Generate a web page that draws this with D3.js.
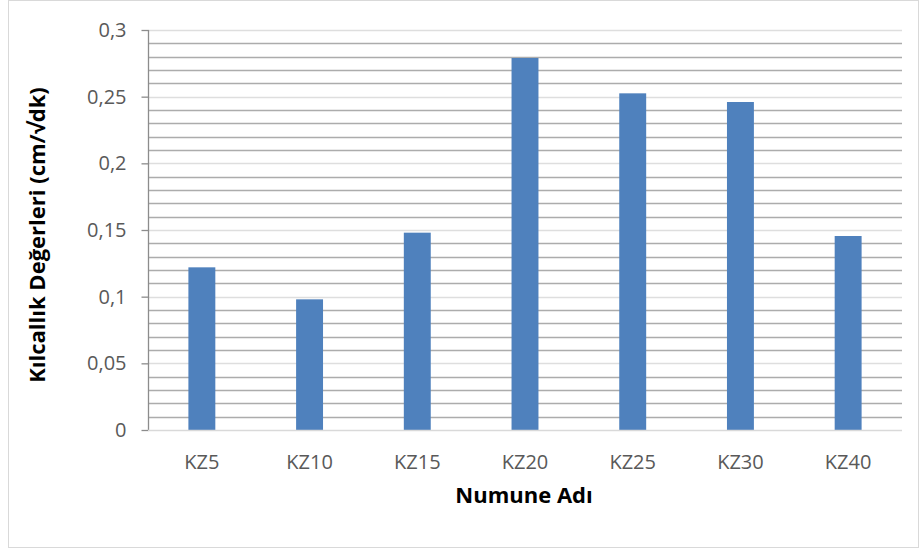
<!DOCTYPE html>
<html>
<head>
<meta charset="utf-8">
<script src="https://cdn.jsdelivr.net/npm/d3@7"></script>
<style>
  body { margin: 0; background: #fff; }
  svg { display: block; font-family: "Open Sans", "Liberation Sans", sans-serif; }
</style>
</head>
<body>
<svg id="chart" width="920" height="549"></svg>
<script>
// Capillarity values per sample
const categories = ["KZ5", "KZ10", "KZ15", "KZ20", "KZ25", "KZ30", "KZ40"];
const values = [0.122, 0.098, 0.148, 0.279, 0.2525, 0.246, 0.1455];
const majorTicks = [0, 0.05, 0.1, 0.15, 0.2, 0.25, 0.3];
const minorTicks = d3.range(0, 31).map(i => i / 100);
const yTitle = "Kılcallık Değerleri (cm/√dk)";
const xTitle = "Numune Adı";

const svg = d3.select("#chart");
const W = 920, H = 549;
const m = { left: 148, right: 18, top: 30, bottom: 119 };

// Outer chart frame
svg.append("rect").attr("x", 8.5).attr("y", 0.5).attr("width", 910).attr("height", 547)
  .attr("fill", "#fff").attr("stroke", "#d9d9d9");

const x = d3.scaleBand().domain(categories).range([m.left, W - m.right]).paddingInner(0.75).paddingOuter(0.375);
const y = d3.scaleLinear().domain([0, 0.3]).range([H - m.bottom, m.top]);

const fmt = d => d3.format("")(+d.toFixed(2)).replace(".", ",");

// Minor gridlines
svg.append("g").selectAll("line").data(minorTicks.filter(t => Math.round(t * 100) % 5 !== 0)).join("line")
  .attr("x1", m.left).attr("x2", W - m.right)
  .attr("y1", d => Math.round(y(d)) + 0.5).attr("y2", d => Math.round(y(d)) + 0.5)
  .attr("stroke", "#acacac").attr("stroke-width", 1.3);

// Major gridlines
svg.append("g").selectAll("line").data(majorTicks.filter(t => t > 0)).join("line")
  .attr("x1", m.left).attr("x2", W - m.right)
  .attr("y1", d => Math.round(y(d)) + 0.5).attr("y2", d => Math.round(y(d)) + 0.5)
  .attr("stroke", "#dedede").attr("stroke-width", 1.3);

// Bars
svg.append("g").selectAll("rect").data(values).join("rect")
  .attr("x", (d, i) => x(categories[i]))
  .attr("y", d => y(d))
  .attr("width", x.bandwidth())
  .attr("height", d => y(0) - y(d))
  .attr("fill", "#4f81bd");

// Y axis
const yAxis = d3.axisLeft(y).tickValues(majorTicks).tickSize(7).tickPadding(15).tickFormat(fmt);
const gy = svg.append("g").attr("transform", `translate(${m.left + 0.5},0)`).call(yAxis)
  .attr("font-family", null).attr("font-size", null);
gy.select(".domain").attr("stroke", "#8c8c8c").attr("stroke-width", 1.3).attr("d", `M-0,${y(0.3)}V${y(0)}`);
gy.selectAll(".tick line").attr("stroke", "#8c8c8c").attr("stroke-width", 1.3);
gy.selectAll(".tick text").attr("fill", "#595959").style("font-size", "20px");

// X axis baseline and labels
const xAxis = d3.axisBottom(x).tickSize(0).tickPadding(24);
const gx = svg.append("g").attr("transform", `translate(0,${y(0) + 0.5})`).call(xAxis)
  .attr("font-family", null).attr("font-size", null);
gx.select(".domain").attr("stroke", "#d9d9d9").attr("stroke-width", 1.3).attr("d", `M${m.left},0H${W - m.right}`);
gx.selectAll(".tick text").attr("fill", "#595959").style("font-size", "20px");

// Axis titles
svg.append("text").attr("x", 524).attr("y", 503).attr("text-anchor", "middle")
  .style("font-size", "22px").style("font-weight", "bold").attr("fill", "#000").text(xTitle);
svg.append("text").attr("transform", `translate(45,235) rotate(-90)`).attr("text-anchor", "middle")
  .style("font-size", "22px").style("font-weight", "bold").attr("fill", "#000").text(yTitle);
</script>
</body>
</html>
